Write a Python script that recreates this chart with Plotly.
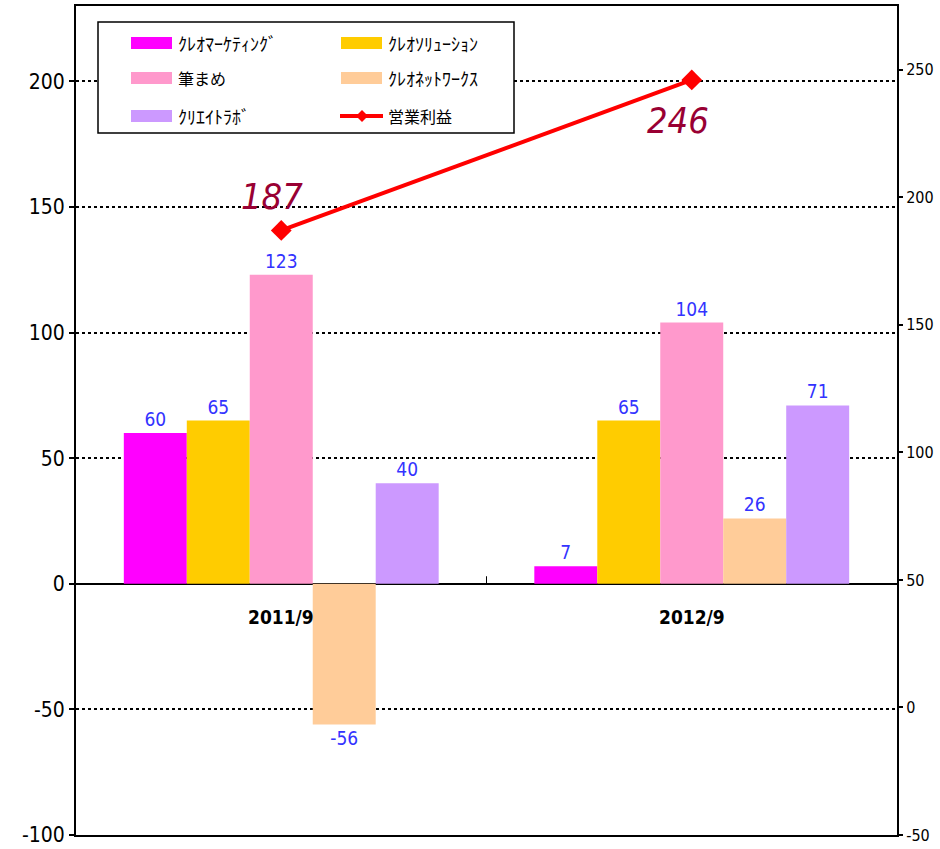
import plotly.graph_objects as go

categories = ["2011/9", "2012/9"]
series_names = ["ｸﾚｵﾏｰｹﾃｨﾝｸﾞ", "ｸﾚｵｿﾘｭｰｼｮﾝ", "筆まめ", "ｸﾚｵﾈｯﾄﾜｰｸｽ", "ｸﾘｴｲﾄﾗﾎﾞ"]
series_colors = ["#FF00FF", "#FFCC00", "#FF99CC", "#FFCC99", "#CC99FF"]
marketing = [60, 7]
solution = [65, 65]
fudemame = [123, 104]
network = [-56, 26]
createlab = [40, 71]
op_profit_name = "営業利益"
op_profit = [187, 246]
left_ticks = [-100, -50, 0, 50, 100, 150, 200]
right_ticks = [-50, 0, 50, 100, 150, 200, 250]

series_values = [marketing, solution, fudemame, network, createlab]

W, H = 940, 849
ML, MR, MT, MB = 76, 43, 6, 14
PW, PH = W - ML - MR, H - MT - MB

NUM_FONT = "DejaVu Sans Condensed, Noto Sans CJK JP"

def px(x):
    return (x - ML) / PW

def py(y):
    return (H - MB - y) / PH

fig = go.Figure()
for name, vals, col in zip(series_names, series_values, series_colors):
    fig.add_trace(go.Bar(
        x=categories, y=vals, name=name, marker_color=col, marker_line_width=0,
        text=[str(v) for v in vals], textposition="outside",
        textfont=dict(color="#3333FF", size=19, family=NUM_FONT),
        cliponaxis=False,
    ))

fig.add_trace(go.Scatter(
    x=categories, y=op_profit, name=op_profit_name, yaxis="y2", mode="lines+markers",
    line=dict(color="#FF0000", width=4),
    marker=dict(symbol="diamond", size=16, color="#FF0000"),
    cliponaxis=False,
))

annotations = []
for cat, v, xs, ys in zip(categories, op_profit, [-9, -14], [34, -41]):
    annotations.append(dict(
        x=cat, y=v, xref="x", yref="y2", text=str(v), showarrow=False,
        xshift=xs, yshift=ys,
        font=dict(size=36, color="#990033", family="DejaVu Sans Condensed", style="italic"),
    ))
for cat in categories:
    annotations.append(dict(
        x=cat, y=0, xref="x", yref="y", text="<b>" + cat + "</b>", showarrow=False, yshift=-33,
        font=dict(size=19, color="black", family=NUM_FONT),
        yanchor="middle",
    ))

shapes = []
shapes.append(dict(type="line", xref="x", yref="y", x0=0.5, x1=0.5, y0=0, y1=3,
                   line=dict(color="black", width=1)))
shapes.append(dict(type="rect", xref="paper", yref="paper",
                   x0=px(98), x1=px(514), y0=py(133), y1=py(22),
                   line=dict(color="black", width=1.5), fillcolor="white", layer="above"))

legend_items = [
    (series_names[0], series_colors[0], "bar"),
    (series_names[1], series_colors[1], "bar"),
    (series_names[2], series_colors[2], "bar"),
    (series_names[3], series_colors[3], "bar"),
    (series_names[4], series_colors[4], "bar"),
    (op_profit_name, "#FF0000", "line"),
]
row_y = [43, 78, 116]
col_x = [131, 341]
for i, (name, col, kind) in enumerate(legend_items):
    r, c = divmod(i, 2)
    yc = row_y[r]
    x0 = col_x[c]
    if kind == "bar":
        shapes.append(dict(type="rect", xref="paper", yref="paper",
                           x0=px(x0), x1=px(x0 + 41), y0=py(yc + 6), y1=py(yc - 6),
                           line=dict(width=0), fillcolor=col, layer="above"))
    else:
        shapes.append(dict(type="line", xref="paper", yref="paper",
                           x0=px(x0 - 1), x1=px(x0 + 42), y0=py(yc), y1=py(yc),
                           line=dict(color=col, width=4), layer="above"))
        shapes.append(dict(type="path", xref="paper", yref="paper", layer="above",
                           path="M {a},{b} L {c},{d} L {a},{e} L {f},{d} Z".format(
                               a=px(x0 + 21), b=py(yc - 6), c=px(x0 + 27), d=py(yc),
                               e=py(yc + 6), f=px(x0 + 15)),
                           fillcolor=col, line=dict(width=0)))
    big = name in ("筆まめ", op_profit_name)
    annotations.append(dict(
        x=px(x0 + 45), y=py(yc), xref="paper", yref="paper", text=name, showarrow=False,
        xanchor="left", yanchor="middle",
        font=dict(size=16 if big else 18, color="black", family="Noto Sans CJK JP"),
    ))

fig.update_layout(
    width=W, height=H,
    margin=dict(l=ML, r=MR, t=MT, b=MB, autoexpand=False),
    paper_bgcolor="white", plot_bgcolor="white",
    barmode="group", bargap=0.233, bargroupgap=0,
    showlegend=False,
    font=dict(family=NUM_FONT, color="black"),
    xaxis=dict(showticklabels=False, ticks="", showgrid=False, showline=True, mirror=True,
               linecolor="black", linewidth=2, zeroline=False, automargin=False),
    yaxis=dict(range=[-100, 230], tickvals=left_ticks, ticktext=[str(t) for t in left_ticks],
               ticks="outside", ticklen=5,
               tickcolor="black", tickwidth=2, automargin=False,
               showgrid=True, gridcolor="black", gridwidth=2, griddash="dot",
               zeroline=True, zerolinecolor="black", zerolinewidth=2,
               showline=True, linecolor="black", linewidth=2, mirror=False,
               tickfont=dict(size=21, family=NUM_FONT)),
    yaxis2=dict(range=[-50, 275], tickvals=right_ticks, ticktext=[str(t) for t in right_ticks],
                overlaying="y", side="right",
                ticks="outside", ticklen=4, tickcolor="black", tickwidth=2, automargin=False,
                showgrid=False, zeroline=False, showline=True, linecolor="black", linewidth=2,
                tickfont=dict(size=16, family=NUM_FONT)),
    annotations=annotations,
    shapes=shapes,
)

fig.write_html("out.html", config={"displayModeBar": False},
               post_script="document.body.style.margin='0';")
